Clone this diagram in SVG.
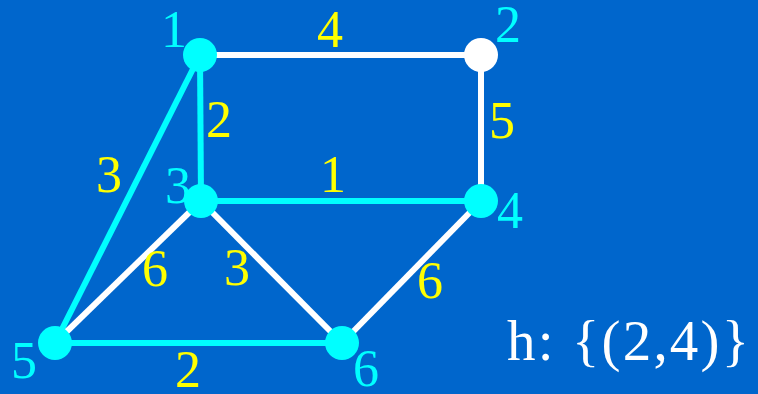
<svg xmlns="http://www.w3.org/2000/svg" width="758" height="394" viewBox="0 0 758 394">
<style>
text{font-family:"Liberation Serif","Times New Roman",serif;font-size:52px;text-anchor:middle}
.nl{fill:#00FFFF}
.el{fill:#FFFF00}
.w{stroke:#FFFFFF;stroke-width:6;fill:none}
.c{stroke:#00FFFF;stroke-width:6;fill:none}
.nc{fill:#00FFFF}
.nw{fill:#FFFFFF}
</style>
<rect width="758" height="394" fill="#0066CC"/>
<g id="connectors">
<line class="w" x1="200" y1="55" x2="481" y2="55"/>
<line class="w" x1="481" y1="55" x2="481" y2="201"/>
<line class="c" x1="200" y1="55" x2="201" y2="201"/>
<line class="c" x1="201" y1="201" x2="481" y2="201"/>
<line class="c" x1="200" y1="55" x2="55" y2="343"/>
<line class="w" x1="201" y1="201" x2="55" y2="343"/>
<line class="w" x1="201" y1="201" x2="342" y2="343"/>
<line class="w" x1="481" y1="201" x2="342" y2="343"/>
<line class="c" x1="55" y1="343" x2="342" y2="343"/>
<text class="el" x="330" y="47">4</text>
<text class="el" x="502" y="138">5</text>
<text class="el" x="219" y="137">2</text>
<text class="el" x="333" y="192">1</text>
<text class="el" x="109" y="192">3</text>
<text class="el" x="155" y="286">6</text>
<text class="el" x="237" y="285">3</text>
<text class="el" x="430" y="298">6</text>
<text class="el" x="188" y="387">2</text>
</g>
<g id="node1"><circle class="nc" cx="200" cy="55" r="17"/><text class="nl" x="174" y="47">1</text></g>
<g id="node2"><circle class="nw" cx="481" cy="55" r="17"/><text class="nl" x="508" y="42">2</text></g>
<g id="node3"><circle class="nc" cx="201" cy="201" r="17"/><text class="nl" x="178" y="203">3</text></g>
<g id="node4"><circle class="nc" cx="481" cy="201" r="17"/><text class="nl" x="510" y="228">4</text></g>
<g id="node5"><circle class="nc" cx="55" cy="343" r="17"/><text class="nl" x="24" y="378">5</text></g>
<g id="node6"><circle class="nc" cx="342" cy="343" r="17"/><text class="nl" x="366" y="386">6</text></g>
<text x="507" y="360" textLength="242" lengthAdjust="spacing" style="text-anchor:start;font-size:57px;fill:#FFFFFF">h: {(2,4)}</text>
</svg>
